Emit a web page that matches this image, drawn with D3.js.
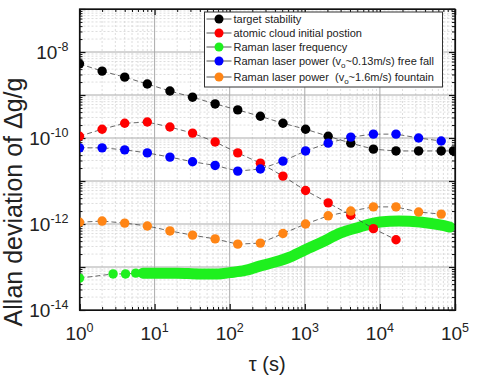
<!DOCTYPE html>
<html>
<head>
<meta charset="utf-8">
<script src="https://cdn.jsdelivr.net/npm/d3@7"></script>
<style>
body { margin: 0; background: #fff; }
text { font-family: Arial, "Liberation Sans", sans-serif; fill: #222; }
</style>
</head>
<body>
<script>
// averaging times (s), doubling
const tau = [1, 2, 4, 8, 16, 32, 64, 128, 256, 512, 1024, 2048, 4096, 8192, 16384, 32768, 65536];

const targetTau = tau.concat([95000]);
const targetVal = [5.3e-9, 3.6e-9, 2.6e-9, 1.8e-9, 1.24e-9, 8.9e-10, 6.2e-10, 4.5e-10, 3.2e-10, 2.2e-10,
  1.6e-10, 1.1e-10, 7.6e-11, 5.5e-11, 5.0e-11, 5.0e-11, 5.0e-11, 5.0e-11];

const cloudTau = tau.slice(0, 15);
const cloudVal = [1.1e-10, 1.6e-10, 2.2e-10, 2.35e-10, 1.8e-10, 1.3e-10, 8.1e-11, 4.5e-11, 2.6e-11, 1.3e-11,
  6.0e-12, 3.1e-12, 1.6e-12, 7.8e-13, 4.3e-13];

// Raman laser frequency: a few separate points, then a dense band
const freqTau = [1, 2.8, 4.1, 5.6, 7];
const freqVal = [5.5e-14, 6.9e-14, 6.9e-14, 7.2e-14, 7.2e-14];
const freqBandTau = [7, 10, 20, 40, 70, 100, 160, 250, 400, 630, 1000, 1600, 3000, 5400, 10000, 18000, 34000, 63000, 85000];
const freqBandVal = [7.2e-14, 7.2e-14, 7.2e-14, 6.9e-14, 6.9e-14, 7.4e-14, 8.3e-14, 1.05e-13, 1.3e-13, 1.7e-13,
  2.5e-13, 3.6e-13, 6.2e-13, 8.5e-13, 1.11e-12, 1.17e-12, 1.11e-12, 9.5e-13, 8.5e-13];

const freeFallTau = tau;
const freeFallVal = [5.9e-11, 5.9e-11, 5.3e-11, 4.5e-11, 3.6e-11, 2.8e-11, 2.3e-11, 1.7e-11, 1.9e-11, 2.9e-11,
  5.0e-11, 7.6e-11, 1.05e-10, 1.23e-10, 1.23e-10, 1.0e-10, 8.5e-11];

const fountainTau = tau;
const fountainVal = [1.1e-12, 1.17e-12, 1.05e-12, 9.0e-13, 6.9e-13, 5.5e-13, 4.5e-13, 3.4e-13, 3.6e-13, 6.0e-13,
  1.0e-12, 1.55e-12, 2.0e-12, 2.5e-12, 2.5e-12, 1.9e-12, 1.7e-12];

const xTickExp = [0, 1, 2, 3, 4, 5];
const yTickExp = [-14, -12, -10, -8];

const margin = {top: 9, right: 27, bottom: 74, left: 79.5},
width = 482 - margin.left - margin.right,
height = 384 - margin.top - margin.bottom;

const svg = d3.select("body")
.append("svg")
.attr("width", width + margin.left + margin.right)
.attr("height", height + margin.top + margin.bottom)
.append("g")
.attr("transform", `translate(${margin.left},${margin.top})`);

const x = d3.scaleLog().domain([1, 1e5]).range([0, width]);
const y = d3.scaleLog().domain([1e-14, 1e-7]).range([height, 0]);

// grid
const xMajor = d3.range(0, 6).map(e => Math.pow(10, e));
const yMajor = d3.range(-14, -6).map(e => Math.pow(10, e));
const xMinor = [], yMinor = [];
for (let e = 0; e < 5; e++) for (let k = 2; k < 10; k++) xMinor.push(k * Math.pow(10, e));
for (let e = -14; e < -7; e++) for (let k = 2; k < 10; k++) yMinor.push(k * Math.pow(10, e));

svg.append("g").selectAll("line").data(xMinor).enter().append("line")
  .attr("x1", d => x(d)).attr("x2", d => x(d)).attr("y1", 0).attr("y2", height)
  .style("stroke", "#d4d4d4").style("stroke-width", 0.8).style("stroke-dasharray", "2,2");
svg.append("g").selectAll("line").data(yMinor).enter().append("line")
  .attr("y1", d => y(d)).attr("y2", d => y(d)).attr("x1", 0).attr("x2", width)
  .style("stroke", "#d4d4d4").style("stroke-width", 0.8).style("stroke-dasharray", "2,2");
svg.append("g").selectAll("line").data(xMajor).enter().append("line")
  .attr("x1", d => x(d)).attr("x2", d => x(d)).attr("y1", 0).attr("y2", height)
  .style("stroke", "#aaa").style("stroke-width", 1);
svg.append("g").selectAll("line").data(yMajor).enter().append("line")
  .attr("y1", d => y(d)).attr("y2", d => y(d)).attr("x1", 0).attr("x2", width)
  .style("stroke", "#aaa").style("stroke-width", 1);

// axes with inward ticks on all four sides
function ticks(axis, scale, major, minor, tr) {
  svg.append("g").attr("transform", tr)
    .call(axis(scale).tickValues(minor).tickSize(-3).tickFormat(""))
    .call(g => g.select(".domain").remove());
  svg.append("g").attr("transform", tr)
    .call(axis(scale).tickValues(major).tickSize(-6).tickFormat(""))
    .call(g => g.selectAll("line,path").style("stroke", "#111").style("stroke-width", 1.2));
}
ticks(d3.axisBottom, x, xMajor, xMinor, `translate(0,${height})`);
ticks(d3.axisTop, x, xMajor, xMinor, "translate(0,0)");
ticks(d3.axisLeft, y, yMajor, yMinor, "translate(0,0)");
ticks(d3.axisRight, y, yMajor, yMinor, `translate(${width},0)`);
svg.selectAll(".tick line").style("stroke", "#111");

// tick labels with superscripts
xTickExp.forEach(e => {
  const t = svg.append("text").attr("x", x(Math.pow(10, e))).attr("y", height + 30)
    .attr("text-anchor", "middle").style("font-size", "19px");
  t.append("tspan").text("10");
  t.append("tspan").attr("dy", -8).style("font-size", "12.5px").text(e);
});
yTickExp.forEach(e => {
  const t = svg.append("text").attr("x", -11).attr("y", y(Math.pow(10, e)) + 7)
    .attr("text-anchor", "end").style("font-size", "19px");
  t.append("tspan").text("10");
  t.append("tspan").attr("dy", -8).style("font-size", "12.5px").text(e);
});

// X Axis Label
svg.append("text")
  .attr("text-anchor", "middle")
  .attr("x", x(Math.pow(10, 2.5)))
  .attr("y", height + 61)
  .style("font-size", "20px")
  .text("τ (s)");

// Y Axis Label
svg.append("text")
  .attr("text-anchor", "middle")
  .attr("transform", `rotate(-90)`)
  .attr("x", -193)
  .attr("y", -58)
  .style("font-size", "25px")
  .text("Allan deviation of Δg/g");

// data
svg.append("clipPath").attr("id", "clip").append("rect")
  .attr("width", width).attr("height", height);
const plot = svg.append("g").attr("clip-path", "url(#clip)");

const line = d3.line().x(d => x(d[0])).y(d => y(d[1]));
const zip = (a, b) => a.map((t, i) => [t, b[i]]);

function series(tauArr, valArr, color) {
  const pts = zip(tauArr, valArr);
  plot.append("path").datum(pts).attr("d", line)
    .style("fill", "none").style("stroke", "#444").style("stroke-width", 0.8)
    .style("stroke-dasharray", "5,3");
  plot.append("g").selectAll("circle").data(pts).enter().append("circle")
    .attr("cx", d => x(d[0])).attr("cy", d => y(d[1])).attr("r", 4.7)
    .style("fill", color);
}

const green = "#1ef01e";
plot.append("path").datum(zip(freqBandTau, freqBandVal))
  .attr("d", line.curve(d3.curveMonotoneX))
  .style("fill", "none").style("stroke", green).style("stroke-width", 11)
  .style("stroke-linecap", "round").style("stroke-linejoin", "round");
line.curve(d3.curveLinear);
series(freqTau, freqVal, green);
series(targetTau, targetVal, "#000");
series(cloudTau, cloudVal, "#f00");
series(freeFallTau, freeFallVal, "#00f");
series(fountainTau, fountainVal, "#ff8515");

// frame
svg.append("rect").attr("width", width).attr("height", height)
  .style("fill", "none").style("stroke", "#111").style("stroke-width", 1.2);

// legend
const legend = [
  {c: "#000", parts: [["target stability"]]},
  {c: "#f00", parts: [["atomic cloud initial postion"]]},
  {c: green, parts: [["Raman laser frequency"]]},
  {c: "#00f", parts: [["Raman laser power (v"], ["o", "sub"], ["~0.13m/s) free fall"]]},
  {c: "#ff8515", parts: [["Raman laser power  (v"], ["o", "sub"], ["~1.6m/s) fountain"]]}
];
const legendY = [10, 24, 38, 52, 68];
const lg = svg.append("g").attr("transform", "translate(125,0)");
lg.append("rect").attr("x", 0).attr("y", 3).attr("width", 238).attr("height", 75)
  .style("fill", "#fff").style("stroke", "#333").style("stroke-width", 1);
legend.forEach((d, i) => {
  const g = lg.append("g").attr("transform", `translate(0,${legendY[i]})`);
  g.append("line").attr("x1", 2).attr("x2", 27).style("stroke", "#444").style("stroke-width", 0.9);
  g.append("circle").attr("cx", 14.5).attr("r", 4.5).style("fill", d.c);
  const t = g.append("text").attr("x", 29).attr("y", 4).style("font-size", "11px")
    .style("white-space", "pre");
  d.parts.forEach(p => {
    if (p[1] === "sub") {
      t.append("tspan").attr("dy", 3).style("font-size", "8px").text(p[0]);
    } else {
      const s = t.append("tspan").text(p[0]);
      if (t.selectAll("tspan").size() > 1) s.attr("dy", -3);
    }
  });
});
</script>
</body>
</html>
